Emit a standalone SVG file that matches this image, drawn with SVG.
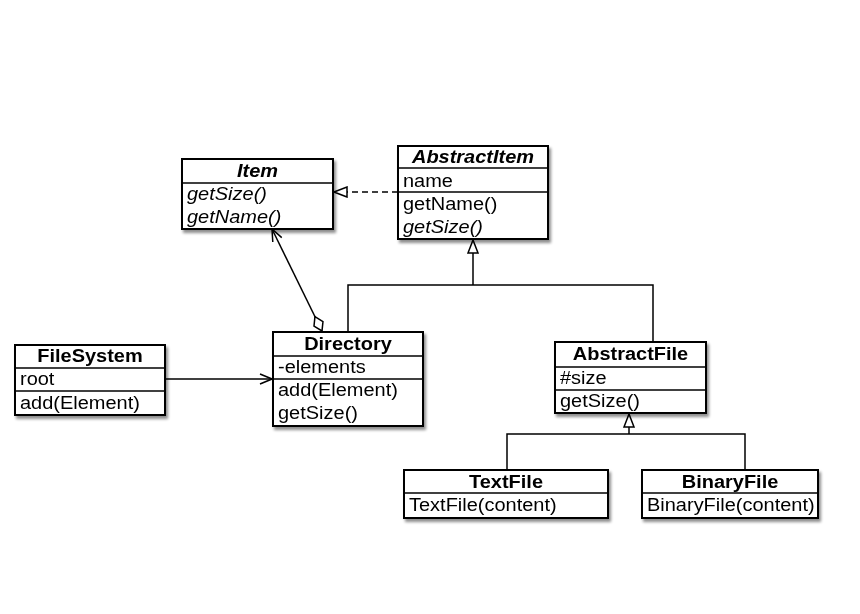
<svg xmlns="http://www.w3.org/2000/svg" width="860" height="614" viewBox="0 0 860 614">
  <style>
    .box { fill: #ffffff; stroke: #000000; stroke-width: 2; }
    .sep { stroke: #000000; stroke-width: 1.5; }
    text { font-family: "Liberation Sans", Arial, sans-serif; font-size: 18.5px; fill: #000000; }
    .h { font-weight: bold; text-anchor: middle; }
    .it { font-style: italic; }
    .line { fill: none; stroke: #000000; stroke-width: 1.5; }
    .dash { stroke-dasharray: 6 4; }
  </style>
  <defs>
    <filter id="shadow" x="-10%" y="-10%" width="125%" height="130%">
      <feGaussianBlur in="SourceAlpha" stdDeviation="1.5"/>
      <feOffset dx="2" dy="3" result="b"/>
      <feComponentTransfer><feFuncA type="linear" slope="0.45"/></feComponentTransfer>
      <feMerge><feMergeNode/><feMergeNode in="SourceGraphic"/></feMerge>
    </filter>
    <marker id="tri" markerUnits="userSpaceOnUse" markerWidth="15" markerHeight="13" refX="14" refY="6.5" orient="auto">
      <path d="M1,1.5 L14,6.5 L1,11.5 Z" fill="#ffffff" stroke="#000000" stroke-width="1.5"/>
    </marker>
    <marker id="open" markerUnits="userSpaceOnUse" markerWidth="14" markerHeight="12" refX="13" refY="6" orient="auto-start-reverse">
      <path d="M1,1 L13,6 L1,11" fill="none" stroke="#000000" stroke-width="1.5"/>
    </marker>
    <marker id="diamond" markerUnits="userSpaceOnUse" markerWidth="19" markerHeight="13" refX="17" refY="6.5" orient="auto">
      <path d="M1,6.5 L9,1.5 L17,6.5 L9,11.5 Z" fill="#ffffff" stroke="#000000" stroke-width="1.5"/>
    </marker>
  </defs>

  <rect width="860" height="614" fill="#ffffff"/>

  <!-- connectors -->
  <g id="connectors">
    <!-- AbstractItem realizes Item -->
    <path class="line dash" d="M398,192 H334" marker-end="url(#tri)"/>
    <!-- Directory aggregates Items -->
    <path class="line" d="M272,229 L322,331" marker-start="url(#open)" marker-end="url(#diamond)"/>
    <!-- FileSystem root -> Directory -->
    <path class="line" d="M165,379 H272" marker-end="url(#open)"/>
    <!-- generalization to AbstractItem -->
    <path class="line" d="M348,332 V285 H653 V342"/>
    <path class="line" d="M473,285 V240" marker-end="url(#tri)"/>
    <!-- generalization to AbstractFile -->
    <path class="line" d="M507,470 V434 H745 V470"/>
    <path class="line" d="M629,434 V414" marker-end="url(#tri)"/>
  </g>

  <g id="Item" filter="url(#shadow)">
    <rect class="box" x="182" y="159" width="151" height="70"/>
    <line class="sep" x1="182" y1="183" x2="333" y2="183"/>
    <text class="h it" transform="translate(257.5,177) scale(1.08,1)">Item</text>
    <text class="it" transform="translate(187,200) scale(1.08,1)">getSize()</text>
    <text class="it" transform="translate(187,223) scale(1.08,1)">getName()</text>
  </g>

  <g id="AbstractItem" filter="url(#shadow)">
    <rect class="box" x="398" y="146" width="150" height="93"/>
    <line class="sep" x1="398" y1="168" x2="548" y2="168"/>
    <line class="sep" x1="398" y1="192" x2="548" y2="192"/>
    <text class="h it" transform="translate(473,163) scale(1.08,1)">AbstractItem</text>
    <text transform="translate(403,187) scale(1.08,1)">name</text>
    <text transform="translate(403,210) scale(1.08,1)">getName()</text>
    <text class="it" transform="translate(403,233) scale(1.08,1)">getSize()</text>
  </g>

  <g id="FileSystem" filter="url(#shadow)">
    <rect class="box" x="15" y="345" width="150" height="70"/>
    <line class="sep" x1="15" y1="368" x2="165" y2="368"/>
    <line class="sep" x1="15" y1="391" x2="165" y2="391"/>
    <text class="h" transform="translate(90,362) scale(1.08,1)">FileSystem</text>
    <text transform="translate(20,385) scale(1.08,1)">root</text>
    <text transform="translate(20,409) scale(1.08,1)">add(Element)</text>
  </g>

  <g id="Directory" filter="url(#shadow)">
    <rect class="box" x="273" y="332" width="150" height="94"/>
    <line class="sep" x1="273" y1="356" x2="423" y2="356"/>
    <line class="sep" x1="273" y1="379" x2="423" y2="379"/>
    <text class="h" transform="translate(348,350) scale(1.08,1)">Directory</text>
    <text transform="translate(278,373) scale(1.08,1)">-elements</text>
    <text transform="translate(278,396) scale(1.08,1)">add(Element)</text>
    <text transform="translate(278,419) scale(1.08,1)">getSize()</text>
  </g>

  <g id="AbstractFile" filter="url(#shadow)">
    <rect class="box" x="555" y="342" width="151" height="71"/>
    <line class="sep" x1="555" y1="367" x2="706" y2="367"/>
    <line class="sep" x1="555" y1="390" x2="706" y2="390"/>
    <text class="h" transform="translate(630.5,360) scale(1.08,1)">AbstractFile</text>
    <text transform="translate(560,384) scale(1.08,1)">#size</text>
    <text transform="translate(560,407) scale(1.08,1)">getSize()</text>
  </g>

  <g id="TextFile" filter="url(#shadow)">
    <rect class="box" x="404" y="470" width="204" height="48"/>
    <line class="sep" x1="404" y1="493" x2="608" y2="493"/>
    <text class="h" transform="translate(506,488) scale(1.08,1)">TextFile</text>
    <text transform="translate(409,511) scale(1.08,1)">TextFile(content)</text>
  </g>

  <g id="BinaryFile" filter="url(#shadow)">
    <rect class="box" x="642" y="470" width="176" height="48"/>
    <line class="sep" x1="642" y1="493" x2="818" y2="493"/>
    <text class="h" transform="translate(730,488) scale(1.08,1)">BinaryFile</text>
    <text transform="translate(647,511) scale(1.08,1)">BinaryFile(content)</text>
  </g>
</svg>
